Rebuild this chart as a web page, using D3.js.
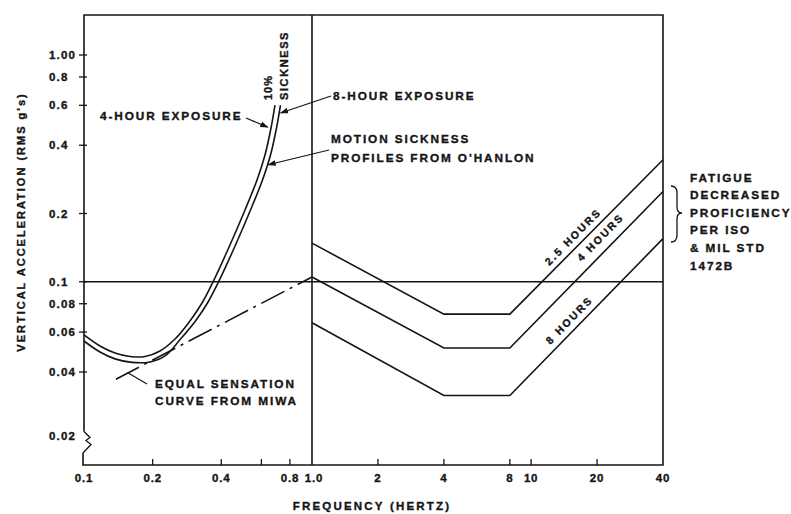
<!DOCTYPE html>
<html>
<head>
<meta charset="utf-8">
<script src="https://cdn.jsdelivr.net/npm/d3@7"></script>
<style>
  html, body { margin: 0; padding: 0; background: #fff; }
  svg { display: block; font-family: "Liberation Sans", Arial, sans-serif; font-weight: bold; }
  svg text { stroke: #151515; stroke-width: 0.35px; }
</style>
</head>
<body>
<svg id="chart" width="791" height="514"></svg>
<script>
// Motion sickness profiles (O'Hanlon), 10% sickness; frequency in Hz, acceleration in RMS g
const sickFreq4h = [0.100, 0.1175, 0.1368, 0.1591, 0.1852, 0.2154, 0.2507, 0.2917, 0.3293, 0.368, 0.4368, 0.5083, 0.574, 0.6221, 0.6609, 0.6881];
const sickAcc4h  = [0.0583, 0.0521, 0.0485, 0.0468, 0.0468, 0.0495, 0.0559, 0.0672, 0.0806, 0.0998, 0.1453, 0.2073, 0.2812, 0.3623, 0.4766, 0.6018];
const sickFreq8h = [0.100, 0.1175, 0.1368, 0.1623, 0.1947, 0.2266, 0.265, 0.3083, 0.3481, 0.389, 0.4618, 0.5374, 0.6066, 0.6577, 0.6987, 0.7273];
const sickAcc8h  = [0.0548, 0.0490, 0.0457, 0.0441, 0.0443, 0.0471, 0.0559, 0.0672, 0.0806, 0.0998, 0.1453, 0.2073, 0.2812, 0.3623, 0.4766, 0.6018];

// Equal sensation curve (Miwa)
const miwaFreq = [0.138, 1.0];
const miwaAcc  = [0.037, 0.105];

// Fatigue-decreased proficiency boundaries (ISO / MIL-STD-1472B)
const isoFreq  = [1, 4, 8, 40];
const iso25h   = [0.148, 0.072, 0.072, 0.345];
const iso4h    = [0.105, 0.051, 0.051, 0.250];
const iso8h    = [0.066, 0.031, 0.031, 0.155];
const isoNames = ["2.5 HOURS", "4 HOURS", "8 HOURS"];

// Axis ticks
const xTickValues = [0.1, 0.2, 0.4, 0.6, 0.8, 1, 2, 4, 8, 10, 20, 40];
const xTickLabels = ["0.1", "0.2", "0.4", "", "0.8", "1.0", "2", "4", "8", "10", "20", "40"];
const yTickValues = [1, 0.8, 0.6, 0.4, 0.2, 0.1, 0.08, 0.06, 0.04, 0.02];
const yTickLabels = ["1.00", "0.8", "0.6", "0.4", "0.2", "0.1", "0.08", "0.06", "0.04", "0.02"];

(function draw() {
  const svg = d3.select("#chart");
  const ink = "#151515";

  // Split log frequency axis: 0.1–1 Hz and 1–40 Hz panels
  const x = d3.scaleLog().domain([0.1, 1, 40]).range([84, 312, 663]);
  // Log acceleration axis with a break below 0.04
  const y = d3.scaleLog().domain([0.02, 0.04, 1]).range([436, 372, 55]);

  const xL = x(0.1), xR = x(40), yT = 15, yB = 465;

  const zip = (a, b) => a.map((v, i) => [v, b[i]]);
  const line = d3.line().x(d => x(d[0])).y(d => y(d[1]));
  const smooth = d3.line().x(d => x(d[0])).y(d => y(d[1])).curve(d3.curveCatmullRom.alpha(0.5));

  // Arrowhead for leader lines
  svg.append("defs").append("marker")
    .attr("id", "arrow").attr("viewBox", "0 0 10 10")
    .attr("refX", 9).attr("refY", 5)
    .attr("markerWidth", 7).attr("markerHeight", 7)
    .attr("orient", "auto")
    .append("path").attr("d", "M0,1.5 L10,5 L0,8.5 z").attr("fill", ink);

  // Frame
  const frame = svg.append("g").attr("stroke", ink).attr("fill", "none").attr("stroke-width", 1.6);
  const yBrk = y(0.021);
  frame.append("path").attr("d",
    `M${xL},${yBrk} L${xL},${yT} L${xR},${yT} L${xR},${yB} L${xL - 1},${yB} L${xL - 1},${yB - 12}`);
  // Axis break zigzag
  frame.append("path").attr("d",
    `M${xL},${yBrk} L${xL + 6},${yBrk + 6} L${xL + 2},${yBrk + 9} L${xL + 7},${yBrk + 13} L${xL - 1},${yB - 12}`)
    .attr("stroke-width", 1.3);
  // Panel divider at 1 Hz and reference line at 0.1 g
  frame.append("line").attr("x1", x(1)).attr("x2", x(1)).attr("y1", yT).attr("y2", yB);
  frame.append("line").attr("x1", xL).attr("x2", xR).attr("y1", y(0.1)).attr("y2", y(0.1)).attr("stroke-width", 1.4);

  // X ticks (inward) and labels
  const xt = svg.append("g");
  xTickValues.forEach((v, i) => {
    if (v !== 0.1 && v !== 1 && v !== 40) {
      xt.append("line").attr("x1", x(v)).attr("x2", x(v)).attr("y1", yB).attr("y2", yB - 6)
        .attr("stroke", ink).attr("stroke-width", 1.3);
    }
    if (xTickLabels[i]) {
      xt.append("text").attr("x", x(v) + (v === 1 ? 2 : 0)).attr("y", yB + 17)
        .attr("text-anchor", "middle").attr("font-size", 11.5).attr("letter-spacing", 0.8)
        .attr("fill", ink).text(xTickLabels[i]);
    }
  });

  // Y ticks and labels
  const yt = svg.append("g");
  yTickValues.forEach((v, i) => {
    if (v !== 0.02) {
      yt.append("line").attr("x1", xL - 5).attr("x2", xL + 3).attr("y1", y(v)).attr("y2", y(v))
        .attr("stroke", ink).attr("stroke-width", 1.3);
    }
    yt.append("text").attr("x", 49).attr("y", y(v) + 4)
      .attr("font-size", 11.5).attr("letter-spacing", 1.2)
      .attr("fill", ink).text(yTickLabels[i]);
  });

  // Axis titles
  svg.append("text").attr("x", 372).attr("y", 510).attr("text-anchor", "middle")
    .attr("font-size", 11.5).attr("letter-spacing", 2.2).attr("fill", ink)
    .text("FREQUENCY (HERTZ)");
  svg.append("text").attr("transform", "translate(25,222) rotate(-90)").attr("text-anchor", "middle")
    .attr("font-size", 11).attr("letter-spacing", 2).attr("fill", ink)
    .text("VERTICAL ACCELERATION (RMS g's)");

  // Motion sickness curves (double line)
  [zip(sickFreq4h, sickAcc4h), zip(sickFreq8h, sickAcc8h)].forEach(pts => {
    svg.append("path").attr("d", smooth(pts)).attr("fill", "none")
      .attr("stroke", ink).attr("stroke-width", 1.6);
  });

  // Miwa equal sensation curve (dash-dot)
  svg.append("path").attr("d", line(zip(miwaFreq, miwaAcc))).attr("fill", "none")
    .attr("stroke", ink).attr("stroke-width", 1.6).attr("stroke-dasharray", "26,6,3,6");

  // ISO boundaries
  const isoSets = [iso25h, iso4h, iso8h];
  isoSets.forEach(vals => {
    svg.append("path").attr("d", line(zip(isoFreq, vals))).attr("fill", "none")
      .attr("stroke", ink).attr("stroke-width", 1.6);
  });

  // Labels along the rising part of each ISO boundary
  const labelFreq = [16.7, 22.8, 16.2];
  const labelOffset = [-6, -9, -7];
  isoSets.forEach((vals, i) => {
    const f8 = isoFreq[2], f40 = isoFreq[3];
    const a8 = vals[2], a40 = vals[3];
    const k = Math.log(a40 / a8) / Math.log(f40 / f8);
    const f = labelFreq[i];
    const a = a8 * Math.pow(f / f8, k);
    const ang = Math.atan2(y(a40) - y(a8), x(f40) - x(f8)) * 180 / Math.PI;
    svg.append("text")
      .attr("transform", `translate(${x(f)},${y(a)}) rotate(${ang})`)
      .attr("y", labelOffset[i]).attr("text-anchor", "middle")
      .attr("font-size", 10.5).attr("letter-spacing", 2.2).attr("fill", ink)
      .text(isoNames[i]);
  });

  // Annotations
  const note = (xp, yp, lines, dy) => {
    const t = svg.append("text").attr("x", xp).attr("y", yp)
      .attr("font-size", 11.8).attr("letter-spacing", 1.9).attr("fill", ink);
    lines.forEach((s, i) => t.append("tspan").attr("x", xp).attr("dy", i ? dy : 0).text(s));
  };
  const leader = (x1, y1, f, a, arrow) => {
    const l = svg.append("line").attr("x1", x1).attr("y1", y1).attr("x2", x(f)).attr("y2", y(a))
      .attr("stroke", ink).attr("stroke-width", 1.2);
    if (arrow) l.attr("marker-end", "url(#arrow)");
  };

  note(100, 120, ["4-HOUR EXPOSURE"], 0);
  leader(246, 118, 0.64, 0.48, true);

  note(333, 100, ["8-HOUR EXPOSURE"], 0);
  leader(331, 96, 0.728, 0.555, true);

  note(331, 143, ["MOTION SICKNESS", "PROFILES FROM O'HANLON"], 19);
  leader(329, 150, 0.642, 0.328, true);

  note(155, 388, ["EQUAL SENSATION", "CURVE FROM MIWA"], 17);
  leader(147, 384, 0.155, 0.0398, false);

  // "10% SICKNESS" written upward beside the top of the curves
  svg.append("text").attr("transform", "translate(272,100) rotate(-90)")
    .attr("font-size", 11).attr("letter-spacing", 1).attr("fill", ink).text("10%");
  svg.append("text").attr("transform", "translate(288,100) rotate(-90)")
    .attr("font-size", 11).attr("letter-spacing", 1.6).attr("fill", ink).text("SICKNESS");

  // Brace and note for the ISO boundaries
  svg.append("path")
    .attr("d", "M671,186 Q677,186 677,193 L677,207 Q677,213 682,213 Q677,213 677,219 L677,235 Q677,242 671,242")
    .attr("fill", "none").attr("stroke", ink).attr("stroke-width", 1.3);
  note(690, 181.5, ["FATIGUE", "DECREASED", "PROFICIENCY", "PER ISO", "& MIL STD", "1472B"], 17.6);
})();
</script>
</body>
</html>
